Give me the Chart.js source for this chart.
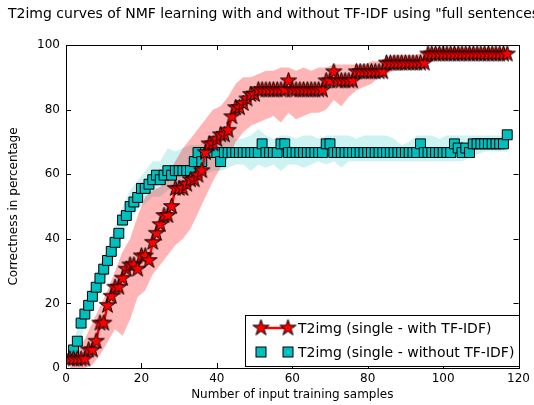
<!DOCTYPE html>
<html>
<head>
<meta charset="utf-8">
<script src="https://cdn.jsdelivr.net/npm/chart.js@4.4.1/dist/chart.umd.min.js"></script>
<style>
    html, body { margin: 0; padding: 0; background: #fff; }
    #wrap { width: 534px; height: 405px; }
</style>
</head>
<body>
<div id="wrap"><canvas id="chart" width="534" height="405"></canvas></div>
<script>
const titleText = 'T2img curves of NMF learning with and without TF-IDF using "full sentences"'
const xTitle = 'Number of input training samples'
const yTitle = 'Correctness in percentage'
const legendLabels = ['T2img (single - with TF-IDF)', 'T2img (single - without TF-IDF)']

const xTicks = [0, 20, 40, 60, 80, 100, 120]
const yTicks = [0, 20, 40, 60, 80, 100]

// number of training samples for each point
const samples = [
    1, 2, 3, 4, 5, 6, 7, 8, 9, 10, 11, 12, 13, 14, 15, 16, 17, 18, 19, 20,
    21, 22, 23, 24, 25, 26, 27, 28, 29, 30, 31, 32, 33, 34, 35, 36, 37, 38, 39, 40,
    41, 42, 43, 44, 45, 46, 47, 48, 49, 50, 51, 52, 53, 54, 55, 56, 57, 58, 59, 60,
    61, 62, 63, 64, 65, 66, 67, 68, 69, 70, 71, 72, 73, 74, 75, 76, 77, 78, 79, 80,
    81, 82, 83, 84, 85, 86, 87, 88, 89, 90, 91, 92, 93, 94, 95, 96, 97, 98, 99, 100,
    101, 102, 103, 104, 105, 106, 107, 108, 109, 110, 111, 112, 113, 114, 115, 116, 117
]

const withTfidf = [
    2.8, 2.8, 2.8, 2.8, 2.8, 5.6, 5.6, 8.3, 13.9, 13.9, 19.4, 22.2, 25, 25, 27.8, 30.6, 31.9, 31.9, 30.6, 34.7,
    34.7, 33.3, 38.9, 41.7, 44.4, 47.2, 47.2, 50, 55.6, 55.6, 55.6, 56.9, 58.3, 58.3, 59.7, 61.1, 66.7, 69.4, 69.4, 70.8,
    72.2, 72.2, 73.6, 77.8, 80.6, 80.6, 81.9, 83.3, 84.7, 84.7, 86.1, 86.1, 86.1, 86.1, 86.1, 86.1, 86.1, 86.1, 88.9, 86.1,
    86.1, 86.1, 86.1, 86.1, 86.1, 86.1, 86.1, 86.1, 88.9, 88.9, 91.7, 88.9, 88.9, 88.9, 88.9, 88.9, 91.7, 91.7, 91.7, 91.7,
    91.7, 91.7, 91.7, 91.7, 94.4, 94.4, 94.4, 94.4, 94.4, 94.4, 94.4, 94.4, 94.4, 94.4, 94.4, 97.2, 97.2, 97.2, 97.2, 97.2,
    97.2, 97.2, 97.2, 97.2, 97.2, 97.2, 97.2, 97.2, 97.2, 97.2, 97.2, 97.2, 97.2, 97.2, 97.2, 97.2, 97.2
]

const withoutTfidf = [
    2.8, 5.6, 8.3, 13.9, 16.7, 19.4, 22.2, 25, 27.8, 30.6, 33.3, 36.1, 38.9, 41.7, 45.8, 47.2, 50, 51.4, 52.8, 55.6,
    55.6, 56.9, 58.3, 59.7, 58.3, 59.7, 61.1, 59.7, 61.1, 61.1, 61.1, 61.1, 61.1, 63.9, 66.7, 63.9, 66.7, 66.7, 66.7, 66.7,
    63.9, 66.7, 66.7, 66.7, 66.7, 66.7, 66.7, 66.7, 66.7, 66.7, 66.7, 69.4, 66.7, 66.7, 66.7, 66.7, 69.4, 69.4, 66.7, 66.7,
    66.7, 66.7, 66.7, 66.7, 66.7, 66.7, 66.7, 66.7, 69.4, 69.4, 66.7, 66.7, 66.7, 66.7, 66.7, 66.7, 66.7, 66.7, 66.7, 66.7,
    66.7, 66.7, 66.7, 66.7, 66.7, 66.7, 66.7, 66.7, 66.7, 66.7, 66.7, 66.7, 66.7, 69.4, 66.7, 66.7, 66.7, 66.7, 66.7, 66.7,
    66.7, 66.7, 69.4, 68.1, 66.7, 68.1, 66.7, 69.4, 69.4, 69.4, 69.4, 69.4, 69.4, 69.4, 69.4, 69.4, 72.2
]

// shaded spread, sampled every second point
const bandSamples = [
    1, 3, 5, 7, 9, 11, 13, 15, 17, 19, 21, 23, 25, 27, 29, 31, 33, 35, 37, 39,
    41, 43, 45, 47, 49, 51, 53, 55, 57, 59, 61, 63, 65, 67, 69, 71, 73, 75, 77, 79,
    81, 83, 85, 87, 89, 91, 93, 95, 97, 99, 101, 103, 105, 107, 109, 111, 113, 115, 117
]

const withUpper = [
    4, 6, 9, 14, 19, 24, 30, 36, 40, 47, 53, 55, 56, 60, 64, 68, 71, 74, 77, 80,
    81, 84, 88, 90, 90, 91, 92, 92, 93, 93, 92, 93, 92, 93, 93, 94, 94, 94, 94, 94,
    95, 95, 96, 97, 97, 97, 97, 98, 99, 99, 99, 99, 99, 99, 99, 99, 99, 99, 98
]
const withLower = [
    0, 0, 0, 1, 4, 8, 12, 10, 15, 22, 24, 29, 32, 35, 38, 40, 43, 48, 53, 58,
    62, 65, 70, 73, 75, 76, 77, 78, 76, 79, 77, 78, 79, 79, 80, 83, 81, 84, 86, 87,
    88, 90, 91, 92, 92, 93, 93, 94, 95, 96, 96, 96, 96, 96, 96, 96, 96, 96, 96
]

const withoutUpper = [
    5, 12, 20, 26, 32, 37, 44, 50, 55, 58, 61, 64, 64, 68, 67, 68, 69, 69, 70, 70,
    71, 72, 71, 71, 72, 74, 72, 71, 72, 72, 71, 72, 72, 71, 72, 72, 72, 72, 71, 72,
    72, 72, 72, 71, 69, 70, 72, 72, 72, 71, 72, 72, 72, 72, 72, 72, 72, 72, 71
]
const withoutLower = [
    1, 5, 13, 19, 24, 29, 35, 41, 46, 49, 51, 53, 53, 55, 56, 57, 58, 59, 60, 61,
    61, 62, 63, 63, 61, 63, 62, 63, 61, 63, 63, 62, 63, 64, 63, 64, 62, 64, 64, 64,
    64, 64, 64, 64, 64, 64, 64, 64, 64, 64, 64, 64, 64, 65, 66, 67, 67, 67, 67
]

const font = 'DejaVu Sans'
const red = '#ff0000'
const cyan = '#00bfbf'

const pairUp = (xs, ys) => xs.map((x, i) => ({ x: x, y: ys[i] }))

// filled star marker with black edge
const makeStar = (r) => {
    const size = Math.ceil(r * 2 + 4)
    const c = document.createElement('canvas')
    c.width = size
    c.height = size
    const ctx = c.getContext('2d')
    ctx.beginPath()
    for (let i = 0; i < 10; i++) {
        const rad = i % 2 ? r * 0.382 : r
        const a = -Math.PI / 2 + i * Math.PI / 5
        ctx.lineTo(size / 2 + rad * Math.cos(a), size / 2 + rad * Math.sin(a))
    }
    ctx.closePath()
    ctx.fillStyle = red
    ctx.fill()
    ctx.strokeStyle = '#000'
    ctx.lineWidth = 1
    ctx.stroke()
    return c
}
const star = makeStar(8.5)

const drawSquare = (ctx, x, y, half) => {
    ctx.fillStyle = cyan
    ctx.strokeStyle = '#000'
    ctx.lineWidth = 1
    ctx.fillRect(x - half, y - half, half * 2, half * 2)
    ctx.strokeRect(x - half, y - half, half * 2, half * 2)
}

// frame, inward ticks, title and legend, drawn like the matplotlib original
const decorations = {
    id: 'decorations',
    afterDraw(chart) {
        const ctx = chart.ctx
        const area = chart.chartArea
        const xs = chart.scales.x
        const ys = chart.scales.y
        ctx.save()
        ctx.strokeStyle = '#000'
        ctx.lineWidth = 1
        ctx.strokeRect(Math.round(area.left) + 0.5, Math.round(area.top) + 0.5,
            Math.round(area.right - area.left), Math.round(area.bottom - area.top))

        ctx.beginPath()
        xTicks.forEach(t => {
            const px = Math.round(xs.getPixelForValue(t)) + 0.5
            ctx.moveTo(px, area.bottom); ctx.lineTo(px, area.bottom - 5)
            ctx.moveTo(px, area.top); ctx.lineTo(px, area.top + 5)
        })
        yTicks.forEach(t => {
            const py = Math.round(ys.getPixelForValue(t)) + 0.5
            ctx.moveTo(area.left, py); ctx.lineTo(area.left + 5, py)
            ctx.moveTo(area.right, py); ctx.lineTo(area.right - 5, py)
        })
        ctx.stroke()

        ctx.fillStyle = '#000'
        ctx.font = '14px "' + font + '"'
        ctx.textAlign = 'left'
        ctx.textBaseline = 'middle'
        ctx.fillText(titleText, 8, 14)

        // legend box, lower right
        const lx = 245, ly = 315, lw = 274, lh = 51
        ctx.fillStyle = '#fff'
        ctx.fillRect(lx, ly, lw, lh)
        ctx.strokeStyle = '#000'
        ctx.strokeRect(lx + 0.5, ly + 0.5, lw, lh)

        const row1 = ly + 13, row2 = ly + 37
        ctx.strokeStyle = red
        ctx.lineWidth = 2.5
        ctx.beginPath()
        ctx.moveTo(261, row1); ctx.lineTo(288, row1)
        ctx.stroke()
        ctx.drawImage(star, 261 - star.width / 2, row1 - star.height / 2)
        ctx.drawImage(star, 288 - star.width / 2, row1 - star.height / 2)
        drawSquare(ctx, 261, row2, 5)
        drawSquare(ctx, 288, row2, 5)

        ctx.fillStyle = '#000'
        ctx.font = '14px "' + font + '"'
        ctx.fillText(legendLabels[0], 298, row1 + 1)
        ctx.fillText(legendLabels[1], 298, row2 + 1)
        ctx.restore()
    }
}

new Chart(document.getElementById('chart'), {
    type: 'line',
    data: {
        datasets: [
            {
                label: legendLabels[0],
                data: pairUp(samples, withTfidf),
                borderColor: red,
                borderWidth: 2.5,
                pointStyle: star,
                pointRadius: 8,
                fill: false,
                order: 0
            },
            {
                label: legendLabels[1],
                data: pairUp(samples, withoutTfidf),
                showLine: false,
                pointStyle: 'rect',
                pointRadius: 7,
                pointBackgroundColor: cyan,
                pointBorderColor: '#000',
                pointBorderWidth: 1,
                fill: false,
                order: 1
            },
            {
                data: pairUp(bandSamples, withUpper),
                borderWidth: 0,
                pointRadius: 0,
                backgroundColor: 'rgba(255, 0, 0, 0.29)',
                fill: '+1',
                order: 2
            },
            {
                data: pairUp(bandSamples, withLower),
                borderWidth: 0,
                pointRadius: 0,
                fill: false,
                order: 3
            },
            {
                data: pairUp(bandSamples, withoutUpper),
                borderWidth: 0,
                pointRadius: 0,
                backgroundColor: 'rgba(0, 191, 191, 0.2)',
                fill: '+1',
                order: 4
            },
            {
                data: pairUp(bandSamples, withoutLower),
                borderWidth: 0,
                pointRadius: 0,
                fill: false,
                order: 5
            }
        ]
    },
    options: {
        responsive: false,
        animation: false,
        events: [],
        layout: { padding: { top: 45, right: 13, left: 0, bottom: 0 } },
        plugins: {
            legend: { display: false },
            tooltip: { enabled: false },
            title: { display: false }
        },
        scales: {
            x: {
                type: 'linear',
                min: 0,
                max: 120,
                afterBuildTicks: s => { s.ticks = xTicks.map(v => ({ value: v })) },
                afterFit: s => { s.height = 37 },
                grid: { display: false, drawTicks: false },
                border: { display: false },
                ticks: { color: '#000', padding: 4, maxRotation: 0, font: { family: font, size: 12 } },
                title: { display: true, text: xTitle, color: '#000', font: { family: font, size: 12 }, padding: { top: 0, bottom: 3 } }
            },
            y: {
                min: 0,
                max: 100,
                afterBuildTicks: s => { s.ticks = yTicks.map(v => ({ value: v })) },
                afterFit: s => { s.width = 66 },
                grid: { display: false, drawTicks: false },
                border: { display: false },
                ticks: { color: '#000', padding: 6, font: { family: font, size: 12 } },
                title: { display: true, text: yTitle, color: '#000', font: { family: font, size: 12 }, padding: { top: 7, bottom: 0 } }
            }
        }
    },
    plugins: [decorations]
})
</script>
</body>
</html>
